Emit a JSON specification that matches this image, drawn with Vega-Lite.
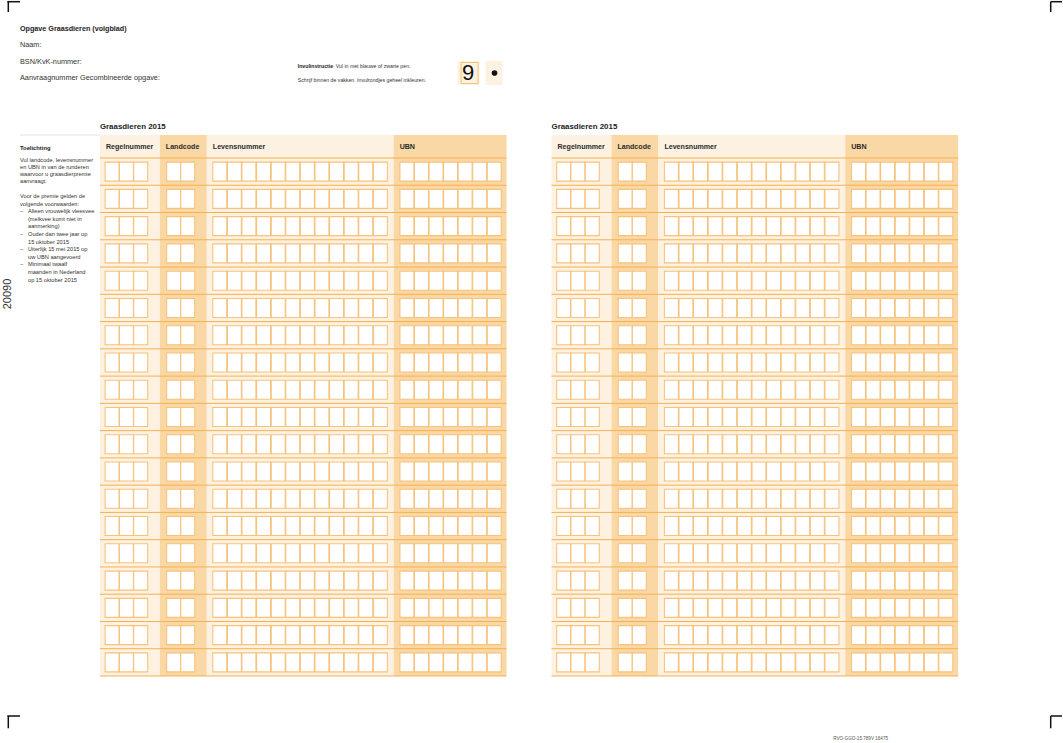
{
  "$schema": "https://vega.github.io/schema/vega-lite/v6.json",
  "width": 1063,
  "height": 743,
  "autosize": {"type": "fit", "contains": "padding"},
  "padding": 0,
  "background": "white",
  "config": {"view": {"stroke": null}, "font": "Liberation Sans"},
  "datasets": {
    "vlakken": [
      {"x1": 27.94, "x2": 44.70, "y1": 38.16, "y2": 191.06, "vlak": "licht"},
      {"x1": 44.70, "x2": 57.84, "y1": 38.16, "y2": 191.06, "vlak": "donker"},
      {"x1": 57.84, "x2": 110.08, "y1": 38.16, "y2": 191.06, "vlak": "licht"},
      {"x1": 110.08, "x2": 141.66, "y1": 38.16, "y2": 191.06, "vlak": "donker"},
      {"x1": 154.23, "x2": 170.99, "y1": 38.16, "y2": 191.06, "vlak": "licht"},
      {"x1": 170.99, "x2": 184.13, "y1": 38.16, "y2": 191.06, "vlak": "donker"},
      {"x1": 184.13, "x2": 236.37, "y1": 38.16, "y2": 191.06, "vlak": "licht"},
      {"x1": 236.37, "x2": 267.95, "y1": 38.16, "y2": 191.06, "vlak": "donker"},
      {"x1": 127.96, "x2": 134.11, "y1": 17.24, "y2": 24.02, "vlak": "licht"},
      {"x1": 135.79, "x2": 140.54, "y1": 17.24, "y2": 24.02, "vlak": "licht"}
    ],
    "kader": [
      {"x1": 128.94, "x2": 133.70, "y1": 17.66, "y2": 23.60}
    ],
    "lijnen": [
      {"x1": 2.04, "x2": 5.59, "y1": 0.48, "y2": 0.48, "soort": "hoek"},
      {"x1": 2.32, "x2": 2.32, "y1": 0.48, "y2": 3.39, "soort": "hoek"},
      {"x1": 293.84, "x2": 297, "y1": 0.48, "y2": 0.48, "soort": "hoek"},
      {"x1": 293.84, "x2": 293.84, "y1": 0.48, "y2": 3.39, "soort": "hoek"},
      {"x1": 2.04, "x2": 5.59, "y1": 202.37, "y2": 202.37, "soort": "hoek"},
      {"x1": 2.32, "x2": 2.32, "y1": 202.37, "y2": 205.84, "soort": "hoek"},
      {"x1": 293.84, "x2": 297, "y1": 202.37, "y2": 202.37, "soort": "hoek"},
      {"x1": 293.84, "x2": 293.84, "y1": 202.37, "y2": 205.84, "soort": "hoek"},
      {"x1": 5.59, "x2": 27.94, "y1": 38.16, "y2": 38.16, "soort": "scheiding"}
    ],
    "rijlijnen": [
      {"tabel": "links", "x1": 27.94, "x2": 141.66, "regel": [0,1,2,3,4,5,6,7,8,9,10,11,12,13,14,15,16,17,18,19]},
      {"tabel": "rechts", "x1": 154.23, "x2": 267.95, "regel": [0,1,2,3,4,5,6,7,8,9,10,11,12,13,14,15,16,17,18,19]}
    ],
    "vakken": [
      {"tabel": "links", "kolom": "Regelnummer", "x": 31.35, "regel": [1,2,3,4,5,6,7,8,9,10,11,12,13,14,15,16,17,18,19]},
      {"tabel": "links", "kolom": "Regelnummer", "x": 35.34, "regel": [1,2,3,4,5,6,7,8,9,10,11,12,13,14,15,16,17,18,19]},
      {"tabel": "links", "kolom": "Regelnummer", "x": 39.34, "regel": [1,2,3,4,5,6,7,8,9,10,11,12,13,14,15,16,17,18,19]},
      {"tabel": "links", "kolom": "Landcode", "x": 48.56, "regel": [1,2,3,4,5,6,7,8,9,10,11,12,13,14,15,16,17,18,19]},
      {"tabel": "links", "kolom": "Landcode", "x": 52.50, "regel": [1,2,3,4,5,6,7,8,9,10,11,12,13,14,15,16,17,18,19]},
      {"tabel": "links", "kolom": "Levensnummer", "x": 61.47, "regel": [1,2,3,4,5,6,7,8,9,10,11,12,13,14,15,16,17,18,19]},
      {"tabel": "links", "kolom": "Levensnummer", "x": 65.55, "regel": [1,2,3,4,5,6,7,8,9,10,11,12,13,14,15,16,17,18,19]},
      {"tabel": "links", "kolom": "Levensnummer", "x": 69.61, "regel": [1,2,3,4,5,6,7,8,9,10,11,12,13,14,15,16,17,18,19]},
      {"tabel": "links", "kolom": "Levensnummer", "x": 73.71, "regel": [1,2,3,4,5,6,7,8,9,10,11,12,13,14,15,16,17,18,19]},
      {"tabel": "links", "kolom": "Levensnummer", "x": 77.80, "regel": [1,2,3,4,5,6,7,8,9,10,11,12,13,14,15,16,17,18,19]},
      {"tabel": "links", "kolom": "Levensnummer", "x": 81.88, "regel": [1,2,3,4,5,6,7,8,9,10,11,12,13,14,15,16,17,18,19]},
      {"tabel": "links", "kolom": "Levensnummer", "x": 85.96, "regel": [1,2,3,4,5,6,7,8,9,10,11,12,13,14,15,16,17,18,19]},
      {"tabel": "links", "kolom": "Levensnummer", "x": 90.04, "regel": [1,2,3,4,5,6,7,8,9,10,11,12,13,14,15,16,17,18,19]},
      {"tabel": "links", "kolom": "Levensnummer", "x": 94.12, "regel": [1,2,3,4,5,6,7,8,9,10,11,12,13,14,15,16,17,18,19]},
      {"tabel": "links", "kolom": "Levensnummer", "x": 98.21, "regel": [1,2,3,4,5,6,7,8,9,10,11,12,13,14,15,16,17,18,19]},
      {"tabel": "links", "kolom": "Levensnummer", "x": 102.29, "regel": [1,2,3,4,5,6,7,8,9,10,11,12,13,14,15,16,17,18,19]},
      {"tabel": "links", "kolom": "Levensnummer", "x": 106.37, "regel": [1,2,3,4,5,6,7,8,9,10,11,12,13,14,15,16,17,18,19]},
      {"tabel": "links", "kolom": "UBN", "x": 113.80, "regel": [1,2,3,4,5,6,7,8,9,10,11,12,13,14,15,16,17,18,19]},
      {"tabel": "links", "kolom": "UBN", "x": 117.87, "regel": [1,2,3,4,5,6,7,8,9,10,11,12,13,14,15,16,17,18,19]},
      {"tabel": "links", "kolom": "UBN", "x": 121.94, "regel": [1,2,3,4,5,6,7,8,9,10,11,12,13,14,15,16,17,18,19]},
      {"tabel": "links", "kolom": "UBN", "x": 126.01, "regel": [1,2,3,4,5,6,7,8,9,10,11,12,13,14,15,16,17,18,19]},
      {"tabel": "links", "kolom": "UBN", "x": 130.08, "regel": [1,2,3,4,5,6,7,8,9,10,11,12,13,14,15,16,17,18,19]},
      {"tabel": "links", "kolom": "UBN", "x": 134.16, "regel": [1,2,3,4,5,6,7,8,9,10,11,12,13,14,15,16,17,18,19]},
      {"tabel": "links", "kolom": "UBN", "x": 138.22, "regel": [1,2,3,4,5,6,7,8,9,10,11,12,13,14,15,16,17,18,19]},
      {"tabel": "rechts", "kolom": "Regelnummer", "x": 157.64, "regel": [1,2,3,4,5,6,7,8,9,10,11,12,13,14,15,16,17,18,19]},
      {"tabel": "rechts", "kolom": "Regelnummer", "x": 161.63, "regel": [1,2,3,4,5,6,7,8,9,10,11,12,13,14,15,16,17,18,19]},
      {"tabel": "rechts", "kolom": "Regelnummer", "x": 165.63, "regel": [1,2,3,4,5,6,7,8,9,10,11,12,13,14,15,16,17,18,19]},
      {"tabel": "rechts", "kolom": "Landcode", "x": 174.85, "regel": [1,2,3,4,5,6,7,8,9,10,11,12,13,14,15,16,17,18,19]},
      {"tabel": "rechts", "kolom": "Landcode", "x": 178.79, "regel": [1,2,3,4,5,6,7,8,9,10,11,12,13,14,15,16,17,18,19]},
      {"tabel": "rechts", "kolom": "Levensnummer", "x": 187.76, "regel": [1,2,3,4,5,6,7,8,9,10,11,12,13,14,15,16,17,18,19]},
      {"tabel": "rechts", "kolom": "Levensnummer", "x": 191.84, "regel": [1,2,3,4,5,6,7,8,9,10,11,12,13,14,15,16,17,18,19]},
      {"tabel": "rechts", "kolom": "Levensnummer", "x": 195.90, "regel": [1,2,3,4,5,6,7,8,9,10,11,12,13,14,15,16,17,18,19]},
      {"tabel": "rechts", "kolom": "Levensnummer", "x": 200.00, "regel": [1,2,3,4,5,6,7,8,9,10,11,12,13,14,15,16,17,18,19]},
      {"tabel": "rechts", "kolom": "Levensnummer", "x": 204.09, "regel": [1,2,3,4,5,6,7,8,9,10,11,12,13,14,15,16,17,18,19]},
      {"tabel": "rechts", "kolom": "Levensnummer", "x": 208.17, "regel": [1,2,3,4,5,6,7,8,9,10,11,12,13,14,15,16,17,18,19]},
      {"tabel": "rechts", "kolom": "Levensnummer", "x": 212.25, "regel": [1,2,3,4,5,6,7,8,9,10,11,12,13,14,15,16,17,18,19]},
      {"tabel": "rechts", "kolom": "Levensnummer", "x": 216.33, "regel": [1,2,3,4,5,6,7,8,9,10,11,12,13,14,15,16,17,18,19]},
      {"tabel": "rechts", "kolom": "Levensnummer", "x": 220.41, "regel": [1,2,3,4,5,6,7,8,9,10,11,12,13,14,15,16,17,18,19]},
      {"tabel": "rechts", "kolom": "Levensnummer", "x": 224.50, "regel": [1,2,3,4,5,6,7,8,9,10,11,12,13,14,15,16,17,18,19]},
      {"tabel": "rechts", "kolom": "Levensnummer", "x": 228.58, "regel": [1,2,3,4,5,6,7,8,9,10,11,12,13,14,15,16,17,18,19]},
      {"tabel": "rechts", "kolom": "Levensnummer", "x": 232.66, "regel": [1,2,3,4,5,6,7,8,9,10,11,12,13,14,15,16,17,18,19]},
      {"tabel": "rechts", "kolom": "UBN", "x": 240.09, "regel": [1,2,3,4,5,6,7,8,9,10,11,12,13,14,15,16,17,18,19]},
      {"tabel": "rechts", "kolom": "UBN", "x": 244.16, "regel": [1,2,3,4,5,6,7,8,9,10,11,12,13,14,15,16,17,18,19]},
      {"tabel": "rechts", "kolom": "UBN", "x": 248.23, "regel": [1,2,3,4,5,6,7,8,9,10,11,12,13,14,15,16,17,18,19]},
      {"tabel": "rechts", "kolom": "UBN", "x": 252.30, "regel": [1,2,3,4,5,6,7,8,9,10,11,12,13,14,15,16,17,18,19]},
      {"tabel": "rechts", "kolom": "UBN", "x": 256.37, "regel": [1,2,3,4,5,6,7,8,9,10,11,12,13,14,15,16,17,18,19]},
      {"tabel": "rechts", "kolom": "UBN", "x": 260.45, "regel": [1,2,3,4,5,6,7,8,9,10,11,12,13,14,15,16,17,18,19]},
      {"tabel": "rechts", "kolom": "UBN", "x": 264.51, "regel": [1,2,3,4,5,6,7,8,9,10,11,12,13,14,15,16,17,18,19]}
    ],
    "stip": [{"x": 138.30, "y": 20.63}],
    "teksten": [
      {"tekst": "Opgave Graasdieren (volgblad)", "x": 5.59, "y": 8.20, "stijl": "kop"},
      {"tekst": "Naam:", "x": 5.59, "y": 12.72, "stijl": "veld"},
      {"tekst": "BSN/KvK-nummer:", "x": 5.59, "y": 17.52, "stijl": "veld"},
      {"tekst": "Aanvraagnummer Gecombineerde opgave:", "x": 5.59, "y": 22.05, "stijl": "veld"},
      {"tekst": "Invulinstructie", "x": 83.26, "y": 18.65, "stijl": "instr-b"},
      {"tekst": "Vul in met blauwe of zwarte pen.", "x": 93.88, "y": 18.65, "stijl": "instr"},
      {"tekst": "Schrijf binnen de vakken. Invulrondjes geheel inkleuren.", "x": 83.26, "y": 22.61, "stijl": "instr"},
      {"tekst": "9", "x": 130.90, "y": 20.63, "stijl": "groot"},
      {"tekst": "Graasdieren 2015", "x": 27.94, "y": 35.89, "stijl": "titel"},
      {"tekst": "Graasdieren 2015", "x": 154.23, "y": 35.89, "stijl": "titel"},
      {"tekst": "Regelnummer", "x": 29.62, "y": 41.63, "stijl": "kolom"},
      {"tekst": "Landcode", "x": 46.38, "y": 41.63, "stijl": "kolom"},
      {"tekst": "Levensnummer", "x": 59.51, "y": 41.63, "stijl": "kolom"},
      {"tekst": "UBN", "x": 111.76, "y": 41.63, "stijl": "kolom"},
      {"tekst": "Regelnummer", "x": 155.91, "y": 41.63, "stijl": "kolom"},
      {"tekst": "Landcode", "x": 172.67, "y": 41.63, "stijl": "kolom"},
      {"tekst": "Levensnummer", "x": 185.80, "y": 41.63, "stijl": "kolom"},
      {"tekst": "UBN", "x": 238.05, "y": 41.63, "stijl": "kolom"},
      {"tekst": "Toelichting", "x": 5.59, "y": 41.69, "stijl": "toel-b"},
      {"tekst": "Vul landcode, levensnummer", "x": 5.59, "y": 45.20, "stijl": "toel"},
      {"tekst": "en UBN in van de runderen", "x": 5.59, "y": 47.20, "stijl": "toel"},
      {"tekst": "waarvoor u graasdierpremie", "x": 5.59, "y": 49.20, "stijl": "toel"},
      {"tekst": "aanvraagt.", "x": 5.59, "y": 51.20, "stijl": "toel"},
      {"tekst": "Voor de premie gelden de", "x": 5.59, "y": 55.40, "stijl": "toel"},
      {"tekst": "volgende voorwaarden:", "x": 5.59, "y": 57.54, "stijl": "toel"},
      {"tekst": "–", "x": 5.59, "y": 59.69, "stijl": "toel"},
      {"tekst": "Alleen vrouwelijk vleesvee", "x": 7.82, "y": 59.69, "stijl": "toel"},
      {"tekst": "(melkvee komt niet in", "x": 7.82, "y": 61.84, "stijl": "toel"},
      {"tekst": "aanmerking)", "x": 7.82, "y": 63.99, "stijl": "toel"},
      {"tekst": "–", "x": 5.59, "y": 66.14, "stijl": "toel"},
      {"tekst": "Ouder dan twee jaar op", "x": 7.82, "y": 66.14, "stijl": "toel"},
      {"tekst": "15 oktober 2015", "x": 7.82, "y": 68.28, "stijl": "toel"},
      {"tekst": "–", "x": 5.59, "y": 70.43, "stijl": "toel"},
      {"tekst": "Uiterlijk 15 mei 2015 op", "x": 7.82, "y": 70.43, "stijl": "toel"},
      {"tekst": "uw UBN aangevoerd", "x": 7.82, "y": 72.58, "stijl": "toel"},
      {"tekst": "–", "x": 5.59, "y": 74.73, "stijl": "toel"},
      {"tekst": "Minimaal twaalf", "x": 7.82, "y": 74.73, "stijl": "toel"},
      {"tekst": "maanden in Nederland", "x": 7.82, "y": 76.88, "stijl": "toel"},
      {"tekst": "op 15 oktober 2015", "x": 7.82, "y": 79.03, "stijl": "toel"},
      {"tekst": "20090", "x": 2.24, "y": 83.09, "stijl": "code"},
      {"tekst": "RVO-GGO-15.789V 16475", "x": 233.02, "y": 208.87, "stijl": "voet"}
    ]
  },
  "resolve": {"scale": {"y": "independent", "color": "independent"}},
  "layer": [
    {
      "data": {"name": "vlakken"},
      "mark": {"type": "rect"},
      "encoding": {
        "x": {"field": "x1", "type": "quantitative", "scale": {"domain": [0, 297], "nice": false, "zero": false}, "axis": null},
        "x2": {"field": "x2"},
        "y": {"field": "y1", "type": "quantitative", "scale": {"domain": [0, 210], "reverse": true, "nice": false, "zero": false}, "axis": null},
        "y2": {"field": "y2"},
        "color": {"field": "vlak", "type": "nominal", "scale": {"domain": ["licht", "donker"], "range": ["#fdf2e2", "#fad8a6"]}, "legend": null}
      }
    },
    {
      "data": {"name": "kader"},
      "mark": {"type": "rect", "fill": null, "fillOpacity": 0, "stroke": "#f5c27a", "strokeWidth": 1},
      "encoding": {
        "x": {"field": "x1", "type": "quantitative", "scale": {"domain": [0, 297], "nice": false, "zero": false}, "axis": null},
        "x2": {"field": "x2"},
        "y": {"field": "y1", "type": "quantitative", "scale": {"domain": [0, 210], "reverse": true, "nice": false, "zero": false}, "axis": null},
        "y2": {"field": "y2"}
      }
    },
    {
      "data": {"name": "rijlijnen"},
      "transform": [{"flatten": ["regel"]}],
      "mark": {"type": "rule", "color": "#f4b04f", "strokeWidth": 1, "yOffset": 13.63},
      "encoding": {
        "x": {"field": "x1", "type": "quantitative", "scale": {"domain": [0, 297], "nice": false, "zero": false}, "axis": null},
        "x2": {"field": "x2"},
        "y": {"field": "regel", "type": "quantitative", "scale": {"domain": [-5.2955, 21.9577], "reverse": true, "nice": false, "zero": false}, "axis": null}
      }
    },
    {
      "data": {"name": "vakken"},
      "transform": [{"flatten": ["regel"]}],
      "mark": {"type": "point", "shape": "M-0.737,-1H0.737V1H-0.737Z", "size": 361, "filled": false, "fill": "white", "fillOpacity": 1, "stroke": "#f6c27c", "strokeWidth": 1.1, "opacity": 1},
      "encoding": {
        "x": {"field": "x", "type": "quantitative", "scale": {"domain": [0, 297], "nice": false, "zero": false}, "axis": null},
        "y": {"field": "regel", "type": "quantitative", "scale": {"domain": [-5.2955, 21.9577], "reverse": true, "nice": false, "zero": false}, "axis": null}
      }
    },
    {
      "data": {"name": "lijnen"},
      "transform": [{"filter": "datum.soort === 'hoek'"}],
      "mark": {"type": "rule", "color": "#111111", "strokeWidth": 1.5},
      "encoding": {
        "x": {"field": "x1", "type": "quantitative", "scale": {"domain": [0, 297], "nice": false, "zero": false}, "axis": null},
        "x2": {"field": "x2"},
        "y": {"field": "y1", "type": "quantitative", "scale": {"domain": [0, 210], "reverse": true, "nice": false, "zero": false}, "axis": null},
        "y2": {"field": "y2"}
      }
    },
    {
      "data": {"name": "lijnen"},
      "transform": [{"filter": "datum.soort === 'scheiding'"}],
      "mark": {"type": "rule", "color": "#e4dace", "strokeWidth": 0.8},
      "encoding": {
        "x": {"field": "x1", "type": "quantitative", "scale": {"domain": [0, 297], "nice": false, "zero": false}, "axis": null},
        "x2": {"field": "x2"},
        "y": {"field": "y1", "type": "quantitative", "scale": {"domain": [0, 210], "reverse": true, "nice": false, "zero": false}, "axis": null},
        "y2": {"field": "y2"}
      }
    },
    {
      "data": {"name": "stip"},
      "mark": {"type": "point", "shape": "circle", "filled": true, "size": 32, "color": "#111111", "opacity": 1},
      "encoding": {
        "x": {"field": "x", "type": "quantitative", "scale": {"domain": [0, 297], "nice": false, "zero": false}, "axis": null},
        "y": {"field": "y", "type": "quantitative", "scale": {"domain": [0, 210], "reverse": true, "nice": false, "zero": false}, "axis": null}
      }
    },
    {
      "data": {"name": "teksten"},
      "transform": [{"filter": "datum.stijl === 'kop'"}],
      "mark": {"type": "text", "align": "left", "baseline": "middle", "fontSize": 7.2, "fontWeight": "bold", "color": "#222222"},
      "encoding": {
        "x": {"field": "x", "type": "quantitative", "scale": {"domain": [0, 297], "nice": false, "zero": false}, "axis": null},
        "y": {"field": "y", "type": "quantitative", "scale": {"domain": [0, 210], "reverse": true, "nice": false, "zero": false}, "axis": null},
        "text": {"field": "tekst"}
      }
    },
    {
      "data": {"name": "teksten"},
      "transform": [{"filter": "datum.stijl === 'veld'"}],
      "mark": {"type": "text", "align": "left", "baseline": "middle", "fontSize": 7.3, "color": "#333333"},
      "encoding": {
        "x": {"field": "x", "type": "quantitative", "scale": {"domain": [0, 297], "nice": false, "zero": false}, "axis": null},
        "y": {"field": "y", "type": "quantitative", "scale": {"domain": [0, 210], "reverse": true, "nice": false, "zero": false}, "axis": null},
        "text": {"field": "tekst"}
      }
    },
    {
      "data": {"name": "teksten"},
      "transform": [{"filter": "datum.stijl === 'instr-b'"}],
      "mark": {"type": "text", "align": "left", "baseline": "middle", "fontSize": 5.2, "fontWeight": "bold", "color": "#222222"},
      "encoding": {
        "x": {"field": "x", "type": "quantitative", "scale": {"domain": [0, 297], "nice": false, "zero": false}, "axis": null},
        "y": {"field": "y", "type": "quantitative", "scale": {"domain": [0, 210], "reverse": true, "nice": false, "zero": false}, "axis": null},
        "text": {"field": "tekst"}
      }
    },
    {
      "data": {"name": "teksten"},
      "transform": [{"filter": "datum.stijl === 'instr'"}],
      "mark": {"type": "text", "align": "left", "baseline": "middle", "fontSize": 5.2, "color": "#333333"},
      "encoding": {
        "x": {"field": "x", "type": "quantitative", "scale": {"domain": [0, 297], "nice": false, "zero": false}, "axis": null},
        "y": {"field": "y", "type": "quantitative", "scale": {"domain": [0, 210], "reverse": true, "nice": false, "zero": false}, "axis": null},
        "text": {"field": "tekst"}
      }
    },
    {
      "data": {"name": "teksten"},
      "transform": [{"filter": "datum.stijl === 'groot'"}],
      "mark": {"type": "text", "align": "center", "baseline": "middle", "fontSize": 22, "color": "#111111"},
      "encoding": {
        "x": {"field": "x", "type": "quantitative", "scale": {"domain": [0, 297], "nice": false, "zero": false}, "axis": null},
        "y": {"field": "y", "type": "quantitative", "scale": {"domain": [0, 210], "reverse": true, "nice": false, "zero": false}, "axis": null},
        "text": {"field": "tekst"}
      }
    },
    {
      "data": {"name": "teksten"},
      "transform": [{"filter": "datum.stijl === 'titel'"}],
      "mark": {"type": "text", "align": "left", "baseline": "middle", "fontSize": 7.9, "fontWeight": "bold", "color": "#222222"},
      "encoding": {
        "x": {"field": "x", "type": "quantitative", "scale": {"domain": [0, 297], "nice": false, "zero": false}, "axis": null},
        "y": {"field": "y", "type": "quantitative", "scale": {"domain": [0, 210], "reverse": true, "nice": false, "zero": false}, "axis": null},
        "text": {"field": "tekst"}
      }
    },
    {
      "data": {"name": "teksten"},
      "transform": [{"filter": "datum.stijl === 'kolom'"}],
      "mark": {"type": "text", "align": "left", "baseline": "middle", "fontSize": 7.1, "fontWeight": "bold", "color": "#2a2a2a"},
      "encoding": {
        "x": {"field": "x", "type": "quantitative", "scale": {"domain": [0, 297], "nice": false, "zero": false}, "axis": null},
        "y": {"field": "y", "type": "quantitative", "scale": {"domain": [0, 210], "reverse": true, "nice": false, "zero": false}, "axis": null},
        "text": {"field": "tekst"}
      }
    },
    {
      "data": {"name": "teksten"},
      "transform": [{"filter": "datum.stijl === 'toel-b'"}],
      "mark": {"type": "text", "align": "left", "baseline": "middle", "fontSize": 5.8, "fontWeight": "bold", "color": "#222222"},
      "encoding": {
        "x": {"field": "x", "type": "quantitative", "scale": {"domain": [0, 297], "nice": false, "zero": false}, "axis": null},
        "y": {"field": "y", "type": "quantitative", "scale": {"domain": [0, 210], "reverse": true, "nice": false, "zero": false}, "axis": null},
        "text": {"field": "tekst"}
      }
    },
    {
      "data": {"name": "teksten"},
      "transform": [{"filter": "datum.stijl === 'toel'"}],
      "mark": {"type": "text", "align": "left", "baseline": "middle", "fontSize": 5.7, "color": "#333333"},
      "encoding": {
        "x": {"field": "x", "type": "quantitative", "scale": {"domain": [0, 297], "nice": false, "zero": false}, "axis": null},
        "y": {"field": "y", "type": "quantitative", "scale": {"domain": [0, 210], "reverse": true, "nice": false, "zero": false}, "axis": null},
        "text": {"field": "tekst"}
      }
    },
    {
      "data": {"name": "teksten"},
      "transform": [{"filter": "datum.stijl === 'code'"}],
      "mark": {"type": "text", "align": "center", "baseline": "middle", "fontSize": 11, "angle": 270, "color": "#333333"},
      "encoding": {
        "x": {"field": "x", "type": "quantitative", "scale": {"domain": [0, 297], "nice": false, "zero": false}, "axis": null},
        "y": {"field": "y", "type": "quantitative", "scale": {"domain": [0, 210], "reverse": true, "nice": false, "zero": false}, "axis": null},
        "text": {"field": "tekst"}
      }
    },
    {
      "data": {"name": "teksten"},
      "transform": [{"filter": "datum.stijl === 'voet'"}],
      "mark": {"type": "text", "align": "left", "baseline": "middle", "fontSize": 4.6, "color": "#555555"},
      "encoding": {
        "x": {"field": "x", "type": "quantitative", "scale": {"domain": [0, 297], "nice": false, "zero": false}, "axis": null},
        "y": {"field": "y", "type": "quantitative", "scale": {"domain": [0, 210], "reverse": true, "nice": false, "zero": false}, "axis": null},
        "text": {"field": "tekst"}
      }
    }
  ]
}
